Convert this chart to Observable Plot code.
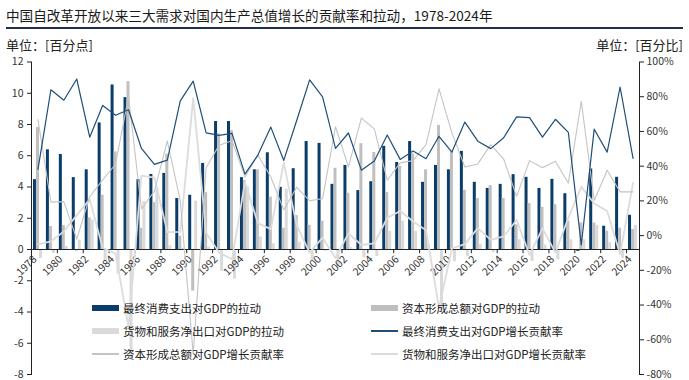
<!DOCTYPE html>
<html><head><meta charset="utf-8">
<script src="https://cdn.jsdelivr.net/npm/d3@7"></script>
<script src="https://cdn.jsdelivr.net/npm/@observablehq/plot@0.6"></script>
<style>
body{margin:0;background:#fff;font-family:"Noto Sans CJK SC","Noto Sans",sans-serif;color:#222;}
#wrap{position:relative;width:689px;height:380px;overflow:hidden;background:#fff;}
#title{position:absolute;left:6px;top:5px;font-size:13.6px;white-space:nowrap;color:#1a1a1a;}
#hr{position:absolute;left:6px;right:6px;top:27px;height:1.5px;background:#1f2d4e;}
#ul{position:absolute;left:6px;top:35px;font-size:13px;}
#ur{position:absolute;right:6px;top:35px;font-size:13px;}
.chart{position:absolute;left:0;top:0;}
.lg{position:absolute;font-size:11.5px;white-space:nowrap;color:#222;line-height:14px;}
.sw{position:absolute;}
</style></head><body>
<div id="wrap">
<div id="title">中国自改革开放以来三大需求对国内生产总值增长的贡献率和拉动，1978-2024年</div>
<div id="hr"></div>
<div id="ul">单位：[百分点]</div>
<div id="ur">单位：[百分比]</div>
<div id="c1" class="chart"></div>
<div id="c2" class="chart"></div>
<div id="legend"></div>
</div>
<script>
const years = [1978,1979,1980,1981,1982,1983,1984,1985,1986,1987,1988,1989,1990,1991,1992,1993,1994,1995,1996,1997,1998,1999,2000,2001,2002,2003,2004,2005,2006,2007,2008,2009,2010,2011,2012,2013,2014,2015,2016,2017,2018,2019,2020,2021,2022,2023,2024];
// 拉动（百分点）
const consPull = [4.47,6.38,6.08,4.6,5.1,8.1,10.53,9.72,4.47,4.8,4.87,3.26,3.47,5.51,8.19,8.19,4.6,5.1,6.19,3.98,5.17,6.91,6.79,4.17,5.38,3.77,4.34,6.6,5.57,6.91,4.3,5.38,5.1,6.28,4.3,3.91,4.17,4.79,4.62,3.91,4.49,3.57,-0.12,5.15,1.49,4.62,2.19];
const capPull  = [7.81,1.47,1.53,-0.1,2.02,3.47,6.25,10.74,1.36,3.0,6.1,0.85,-2.66,3.64,7.4,7.6,4.4,5.1,3.35,1.36,2.17,1.55,1.81,5.2,3.6,6.77,6.21,3.64,5.32,6.13,5.1,7.94,6.28,3.79,3.26,4.09,3.26,1.58,2.94,2.7,2.87,1.81,1.7,1.7,1.17,1.36,1.28];
const nxPull   = [-0.58,-0.25,0.19,0.6,1.88,-0.77,-1.58,-7.06,3.07,3.9,0.23,0.09,3.09,0.15,-1.39,-1.89,4.0,0.8,0.36,3.86,0.46,-0.76,-0.1,-1.07,0.12,-0.54,-0.45,1.16,1.81,1.16,0.3,-3.92,-0.78,-0.47,0.34,-0.2,-0.03,0.63,-0.76,0.29,-0.66,0.62,0.62,1.55,0.44,-0.58,1.53];
// 贡献率（%）
const consRate = [38.2,84.0,78.0,90.2,56.7,75.0,69.3,72.5,50.2,41.0,43.5,77.6,89.0,59.2,57.7,58.9,35.4,46.4,62.5,43.3,66.3,89.7,79.9,50.2,59.1,37.7,43.0,57.9,43.9,48.7,44.3,57.2,48.1,65.4,54.4,50.1,56.4,68.4,68.0,56.7,67.0,59.5,-5.4,61.3,48.1,85.6,44.5];
const capRate  = [66.8,19.3,19.6,-2.0,22.4,32.1,41.1,80.1,15.3,25.6,54.5,20.2,-68.2,39.1,52.1,54.7,33.8,46.4,33.8,14.8,27.8,20.1,21.3,62.7,39.6,67.7,61.5,31.9,41.9,43.2,52.6,84.5,59.2,39.5,41.3,52.4,44.1,22.6,43.2,39.1,42.8,30.2,77.3,20.2,37.7,25.2,25.2];
const nxRate   = [-5.0,-3.3,2.4,11.8,20.9,-7.1,-10.4,-52.6,34.5,33.4,2.0,2.2,79.2,1.7,-9.8,-13.6,30.8,7.2,3.7,41.9,5.9,-9.8,-1.2,-12.9,1.3,-5.4,-4.5,10.2,14.2,8.1,3.1,-41.7,-7.3,-4.9,4.3,-2.5,-0.5,9.0,-11.2,4.2,-9.8,10.3,28.1,18.5,14.2,-10.8,30.3];
const xTickYears = [1978,1980,1982,1984,1986,1988,1990,1992,1994,1996,1998,2000,2002,2004,2006,2008,2010,2012,2014,2016,2018,2020,2022,2024];
const leftTicks = [-8,-6,-4,-2,0,2,4,6,8,10,12];
const rightTicks = [-80,-60,-40,-20,0,20,40,60,80,100];

const C_CONS = "#0b3d6b", C_CAP = "#bfbfbf", C_NX = "#dadada";
const L_CONS = "#1f4e79", L_CAP = "#c4c4c4", L_NX = "#dcdcdc";

const table = years.map((y,i)=>({year:y,cons:consPull[i],cap:capPull[i],nx:nxPull[i],consR:consRate[i],capR:capRate[i],nxR:nxRate[i]}));

const W=689,H=380,ML=31,MR=50,MT=61.5,MB=6;
const bw=(W-ML-MR)/years.length;
const font = '"Noto Sans CJK SC","Noto Sans",sans-serif';

const p1 = Plot.plot({
  width:W,height:H,marginLeft:ML,marginRight:MR,marginTop:MT,marginBottom:MB,
  style:{background:"transparent",fontFamily:font,fontSize:"11px",color:"#333",overflow:"visible"},
  x:{type:"band",domain:years,padding:0,round:false,axis:null},
  y:{domain:[-8,12],axis:null},
  marks:[
    Plot.barY(table,{x:"year",y:"cons",fill:C_CONS,insetLeft:bw/2-4.5,insetRight:bw/2+1.5}),
    Plot.barY(table,{x:"year",y:"cap",fill:C_CAP,insetLeft:bw/2-1.5,insetRight:bw/2-1.5}),
    Plot.barY(table,{x:"year",y:"nx",fill:C_NX,insetLeft:bw/2+1.5,insetRight:bw/2-4.5}),
    Plot.ruleY([0],{stroke:"#222",strokeWidth:1}),
    Plot.ruleX(xTickYears,{x:d=>d,y1:0,y2:-0.27,dx:-bw/2,stroke:"#222"}),
    Plot.text(xTickYears,{x:d=>d,y:0,text:d=>String(d),rotate:-45,textAnchor:"end",lineAnchor:"middle",dx:-3,dy:8,fontSize:10.5,fill:"#333"}),
    Plot.frame({anchor:"left",stroke:"#222"}),
    Plot.axisY(leftTicks,{anchor:"left",tickSize:4,tickPadding:4,fontSize:10.5,tickFormat:d=>String(d),stroke:"#222",fill:"#333"})
  ]
});
document.getElementById("c1").appendChild(p1);

const p2 = Plot.plot({
  width:W,height:H,marginLeft:ML,marginRight:MR,marginTop:MT,marginBottom:MB,
  style:{background:"transparent",fontFamily:font,fontSize:"11px",color:"#333",overflow:"visible"},
  x:{type:"point",domain:years,padding:0.5,round:false,axis:null},
  y:{domain:[-80,100],axis:null},
  marks:[
    Plot.line(table,{x:"year",y:"nxR",stroke:L_NX,strokeWidth:1.8}),
    Plot.line(table,{x:"year",y:"capR",stroke:L_CAP,strokeWidth:1.1}),
    Plot.line(table,{x:"year",y:"consR",stroke:L_CONS,strokeWidth:1.2}),
    Plot.frame({anchor:"right",stroke:"#222"}),
    Plot.axisY(rightTicks,{anchor:"right",tickSize:4,tickPadding:3,fontSize:10.5,tickFormat:d=>d+"%",stroke:"#222",fill:"#333"})
  ]
});
document.getElementById("c2").appendChild(p2);

// legend
const items = [
  {label:"最终消费支出对GDP的拉动",kind:"bar",color:C_CONS,x:92,y:308},
  {label:"资本形成总额对GDP的拉动",kind:"bar",color:C_CAP,x:371,y:308},
  {label:"货物和服务净出口对GDP的拉动",kind:"bar",color:C_NX,x:92,y:331},
  {label:"最终消费支出对GDP增长贡献率",kind:"line",color:L_CONS,w:1.3,x:371,y:331},
  {label:"资本形成总额对GDP增长贡献率",kind:"line",color:L_CAP,w:1.1,x:92,y:354},
  {label:"货物和服务净出口对GDP增长贡献率",kind:"line",color:L_NX,w:1.8,x:371,y:354}
];
const lg = document.getElementById("legend");
for(const it of items){
  const s=document.createElement("div"); s.className="sw";
  s.style.left=it.x+"px"; s.style.width="27px"; s.style.background=it.color;
  if(it.kind==="bar"){s.style.top=(it.y-3)+"px"; s.style.height="6px";}
  else {s.style.top=(it.y-it.w/2)+"px"; s.style.height=it.w+"px";}
  lg.appendChild(s);
  const t=document.createElement("div"); t.className="lg";
  t.style.left=(it.x+31)+"px"; t.style.top=(it.y-7)+"px"; t.textContent=it.label;
  lg.appendChild(t);
}
</script>
</body></html>
